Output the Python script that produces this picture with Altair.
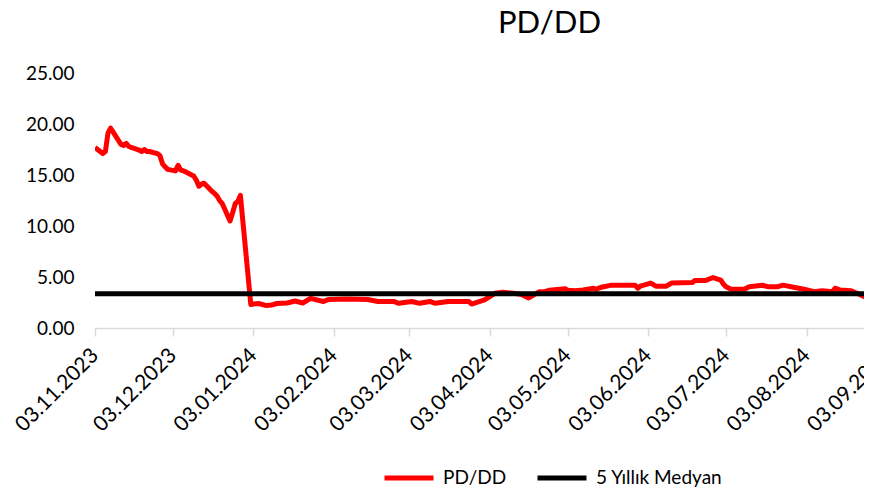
import altair as alt
import pandas as pd

# PD/DD series
dates = [
    "2023-11-03", "2023-11-06", "2023-11-07", "2023-11-08", "2023-11-09", "2023-11-10",
    "2023-11-13", "2023-11-14", "2023-11-15", "2023-11-16", "2023-11-17", "2023-11-20",
    "2023-11-21", "2023-11-22", "2023-11-23", "2023-11-24", "2023-11-27", "2023-11-28",
    "2023-11-29", "2023-11-30", "2023-12-01", "2023-12-04", "2023-12-05", "2023-12-06",
    "2023-12-07", "2023-12-08", "2023-12-11", "2023-12-12", "2023-12-13", "2023-12-14",
    "2023-12-15", "2023-12-18", "2023-12-19", "2023-12-20", "2023-12-21", "2023-12-22",
    "2023-12-25", "2023-12-26", "2023-12-27", "2023-12-28", "2023-12-29", "2024-01-02",
    "2024-01-03", "2024-01-05", "2024-01-08", "2024-01-10", "2024-01-12", "2024-01-16",
    "2024-01-19", "2024-01-22", "2024-01-25", "2024-01-30", "2024-02-01", "2024-02-08",
    "2024-02-16", "2024-02-20", "2024-02-26", "2024-02-28", "2024-03-04", "2024-03-07",
    "2024-03-11", "2024-03-13", "2024-03-18", "2024-03-26", "2024-03-27", "2024-04-01",
    "2024-04-03", "2024-04-05", "2024-04-08", "2024-04-12", "2024-04-15", "2024-04-18",
    "2024-04-19", "2024-04-22", "2024-04-24", "2024-04-26", "2024-05-02", "2024-05-03",
    "2024-05-06", "2024-05-09", "2024-05-13", "2024-05-14", "2024-05-16", "2024-05-20",
    "2024-05-29", "2024-05-30", "2024-05-31", "2024-06-04", "2024-06-06", "2024-06-10",
    "2024-06-12", "2024-06-20", "2024-06-21", "2024-06-25", "2024-06-28", "2024-07-01",
    "2024-07-02", "2024-07-03", "2024-07-05", "2024-07-10", "2024-07-12", "2024-07-17",
    "2024-07-19", "2024-07-23", "2024-07-25", "2024-07-29", "2024-07-31", "2024-08-02",
    "2024-08-06", "2024-08-09", "2024-08-13", "2024-08-14", "2024-08-16", "2024-08-20",
    "2024-08-22", "2024-08-26",
]
pddd = [
    17.7, 17.1, 17.3, 19.1, 19.6, 19.2,
    18.0, 17.9, 18.1, 17.8, 17.7, 17.45,
    17.3, 17.5, 17.3, 17.3, 17.1, 16.9,
    16.1, 15.8, 15.55, 15.4, 15.95, 15.5,
    15.4, 15.3, 14.9, 14.5, 13.9, 14.1,
    14.2, 13.4, 13.2, 12.95, 12.5, 12.2,
    10.5, 11.3, 12.2, 12.4, 13.0, 2.3,
    2.35, 2.4, 2.2, 2.25, 2.4, 2.45,
    2.65, 2.45, 2.9, 2.6, 2.8, 2.85,
    2.8, 2.6, 2.6, 2.42, 2.6, 2.42,
    2.6, 2.42, 2.6, 2.6, 2.35, 2.75,
    3.07, 3.4, 3.5, 3.4, 3.3, 2.95,
    3.1, 3.55, 3.55, 3.7, 3.85, 3.7,
    3.66, 3.72, 3.9, 3.8, 4.0, 4.2,
    4.2, 3.9, 4.1, 4.4, 4.1, 4.1,
    4.4, 4.45, 4.65, 4.65, 4.95, 4.7,
    4.3, 4.05, 3.8, 3.8, 4.05, 4.2,
    4.05, 4.05, 4.2, 4.0, 3.9, 3.8,
    3.56, 3.66, 3.56, 3.9, 3.72, 3.66,
    3.46, 3.0,
]
median_value = 3.35
series_names = ["PD/DD", "5 Yıllık Medyan"]
series_colors = ["#FF0000", "#000000"]
y_ticks = [0, 5, 10, 15, 20, 25]
x_tick_dates = [(2023, 11), (2023, 12), (2024, 1), (2024, 2), (2024, 3), (2024, 4),
                (2024, 5), (2024, 6), (2024, 7), (2024, 8), (2024, 9)]

df = pd.DataFrame({"date": dates, "value": pddd, "series": series_names[0]})
med = pd.DataFrame({"value": [median_value], "series": [series_names[1]]})

FONT = "Lato"

x_vals = [alt.DateTime(year=y, month=m, date=3, utc=True) for y, m in x_tick_dates]

color = alt.Color(
    "series:N",
    scale=alt.Scale(domain=series_names, range=series_colors),
    legend=alt.Legend(
        title=None, orient="none", direction="horizontal",
        legendX=287, legendY=378,
        symbolType="stroke", symbolSize=2400, symbolStrokeWidth=5,
        labelFontSize=19, labelFont=FONT, labelColor="#000000",
        labelOffset=7, columnPadding=20,
    ),
)

x_enc = alt.X(
    "date:T",
    scale=alt.Scale(type="utc",
                    domain=[alt.DateTime(year=2023, month=11, date=3, utc=True),
                            alt.DateTime(year=2024, month=9, date=3, utc=True)],
                    range=[0, 792]),
    axis=alt.Axis(
        values=x_vals, format="%d.%m.%Y", title=None,
        labelAngle=-45, labelAlign="right", labelBaseline="middle",
        labelFont=FONT, labelFontSize=21, labelColor="#000000",
        labelPadding=16, labelOverlap=False, labelFlush=False, labelBound=False,
        domainColor="#D9D9D9", domainWidth=1.5,
        tickColor="#D9D9D9", tickSize=8, tickWidth=1.5,
        grid=False,
    ),
)

y_scale = alt.Scale(domain=[0, 25], nice=False)
y_axis = alt.Axis(
    values=y_ticks, format=".2f", title=None,
    labelFont=FONT, labelFontSize=19, labelColor="#000000",
    labelPadding=21, domain=False, ticks=False, grid=False,
)

line = alt.Chart(df).mark_line(strokeWidth=5, clip=True, strokeJoin="round").encode(
    x=x_enc,
    y=alt.Y("value:Q", scale=y_scale, axis=y_axis),
    color=color,
)

rule = alt.Chart(med).mark_rule(strokeWidth=5).encode(
    y=alt.Y("value:Q", scale=y_scale),
    color=color,
)

chart = alt.layer(line, rule).properties(
    width=769, height=255,
    title=alt.TitleParams("PD/DD", font=FONT, fontSize=31, fontWeight="normal",
                          color="#000000", anchor="middle", dx=70, offset=24),
    autosize=alt.AutoSizeParams(type="none"),
    padding={"left": 87, "top": 65, "right": 0, "bottom": 160},
).configure_view(stroke=None)

chart.save("out.html", embed_options={"renderer": "svg", "actions": False})
